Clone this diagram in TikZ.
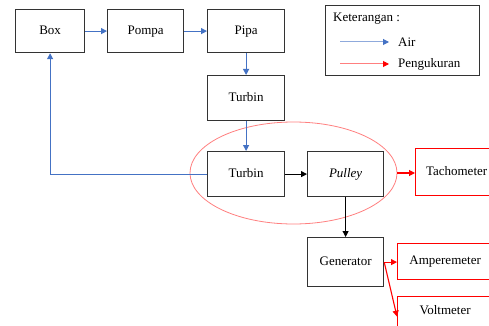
\documentclass[tikz,border=0pt]{standalone}
\usepackage{fontspec}
\setmainfont{Liberation Serif}
\usetikzlibrary{arrows.meta,shapes.geometric}
\definecolor{airblue}{HTML}{4472C4}
\definecolor{lightblue}{HTML}{8FAADC}
\definecolor{boxgray}{HTML}{333333}
\definecolor{pinkred}{HTML}{FF7F7F}
\begin{document}
\begin{tikzpicture}[x=1pt,y=-1pt,
  every node/.style={font=\fontsize{13}{15}\selectfont},
  blk/.style={draw=boxgray,line width=1.2pt,anchor=north west,inner sep=0pt,text height=9pt,text depth=3pt},
  redblk/.style={draw=red,line width=1.2pt,anchor=north west,inner sep=0pt,text height=9pt,text depth=3pt},
  airarr/.style={draw=airblue,line width=1.1pt,-{Triangle[length=6pt,width=6pt]}},
  blkarr/.style={draw=black,line width=1pt,-{Triangle[length=6pt,width=6pt]}},
  redarr/.style={draw=red,line width=1.1pt,-{Triangle[length=6pt,width=6pt]}}]
\useasboundingbox (0,0) rectangle (489,326);
\begin{scope}
\clip (0,0) rectangle (489,326);
\node[blk,minimum width=69pt,minimum height=43pt] (box) at (15,9) {Box};
\node[blk,minimum width=76pt,minimum height=43pt] (pompa) at (107,9) {Pompa};
\node[blk,minimum width=77pt,minimum height=43pt] (pipa) at (207,9) {Pipa};
\node[blk,minimum width=77pt,minimum height=45pt] (t1) at (207,75) {Turbin};
\node[blk,minimum width=77pt,minimum height=45pt] (t2) at (207,151) {Turbin};
\node[blk,minimum width=76pt,minimum height=45pt] (pul) at (307,151) {\textit{Pulley}};
\node[redblk,minimum width=82pt,minimum height=47pt] (tach) at (415,148) {Tachometer};
\node[blk,minimum width=76pt,minimum height=49pt] (gen) at (307,237) {Generator};
\node[redblk,minimum width=95pt,minimum height=36pt] (amp) at (397,243) {Amperemeter};
\node[redblk,minimum width=95pt,inner ysep=4pt,text height=13.5pt,text depth=18.5pt] (volt) at (397,296) {Voltmeter};
\node[draw=pinkred,line width=0.8pt,ellipse,minimum width=207pt,minimum height=102pt,inner sep=0pt] (ell) at (293.5,173) {};

\draw[airarr] (box.east) -- (pompa.west);
\draw[airarr] (pompa.east) -- (pipa.west);
\draw[airarr] (pipa.south) -- (t1.north);
\draw[airarr] (t1.south) -- (t2.north);
\draw[airarr] (t2.west) -| (box.south);
\draw[blkarr] (t2.east) -- (pul.west);
\draw[blkarr] (pul.south) -- (gen.north);
\draw[redarr] (ell.east) -- (ell.east -| tach.west);
\draw[redarr] (gen.east) -- (gen.east -| amp.west);
\draw[redarr] (gen.east) -- (volt.west);

\node[draw=boxgray,line width=1.2pt,anchor=north west,minimum width=154pt,minimum height=70pt] (leg) at (325,5) {};
\node[anchor=west,inner sep=0pt] (ket) at (333,19) {Keterangan :};
\coordinate (a1s) at (340,42);
\coordinate (a1e) at (389,42);
\coordinate (a2s) at (340,64);
\coordinate (a2e) at (389,64);
\draw[draw=lightblue,line width=1pt,-{Triangle[length=6pt,width=6pt,color=airblue]}] (a1s) -- (a1e);
\draw[draw=pinkred,line width=1pt,-{Triangle[length=6pt,width=6pt,color=red]}] (a2s) -- (a2e);
\node[anchor=west,inner sep=0pt] (air) at (398,42) {Air};
\node[anchor=west,inner sep=0pt] (peng) at (398,64) {Pengukuran};
\end{scope}
\end{tikzpicture}
\end{document}
